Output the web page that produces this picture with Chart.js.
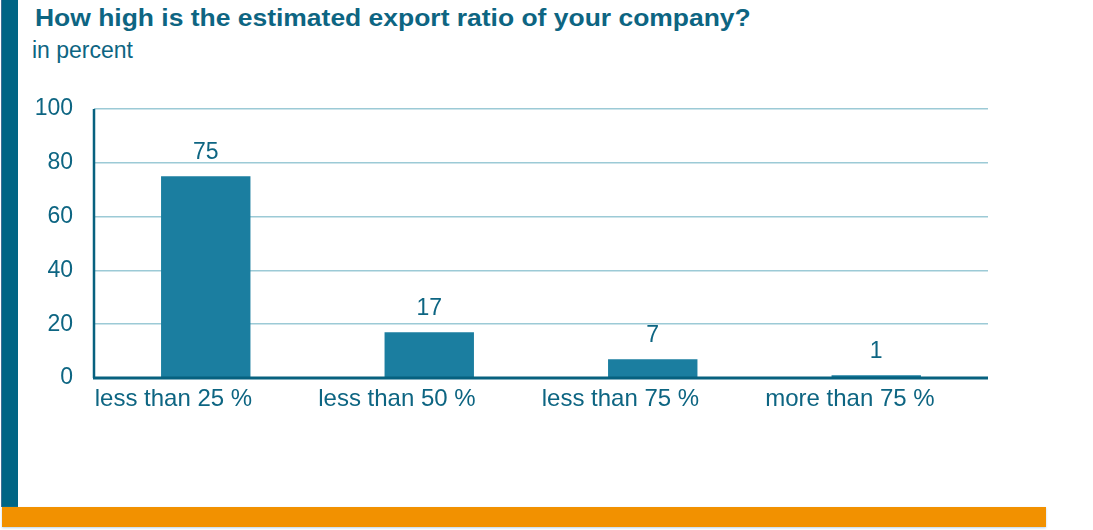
<!DOCTYPE html>
<html>
<head>
<meta charset="utf-8">
<script src="https://cdn.jsdelivr.net/npm/chart.js@4"></script>
<style>
  html, body { margin: 0; padding: 0; background: #fff; }
  #wrap { position: relative; width: 1093px; height: 530px; overflow: hidden; font-family: "Liberation Sans", Arial, sans-serif; }
  #sidebar { position: absolute; left: 1px; top: 0; width: 16px; height: 507px; background: #006585; border-left: 1px solid #3f6f94; }
  #footer { position: absolute; left: 2px; top: 507px; width: 1044px; height: 20px; background: #f29100; box-shadow: 0 1px 2px #b8d4ec; }
  #title { position: absolute; left: 35px; top: 5px; font-size: 23px; font-weight: bold; color: #0d6582; white-space: nowrap; transform: scaleX(1.15); transform-origin: left top; }
  #subtitle { position: absolute; left: 32px; top: 37px; font-size: 23px; color: #0d6582; white-space: nowrap; }
  #chart { position: absolute; left: 0; top: 0; }
</style>
</head>
<body>
<div id="wrap">
  <div id="sidebar"></div>
  <div id="footer"></div>
  <div id="title">How high is the estimated export ratio of your company?</div>
  <div id="subtitle">in percent</div>
  <canvas id="chart" width="1093" height="530"></canvas>
</div>
<script>
// export ratio categories and shares (in percent)
const categories = ['less than 25 %', 'less than 50 %', 'less than 75 %', 'more than 75 %'];
const shares = [75, 17, 7, 1];
const yTicks = [0, 20, 40, 60, 80, 100];

const textColor = '#0d6582';
const barColor = '#1b7ea0';
const gridColor = '#9ccad6';
const axisColor = '#07617f';
const fontFamily = '"Liberation Sans", Arial, sans-serif';

// value labels above each bar
const valueLabels = {
    id: 'valueLabels',
    afterDatasetsDraw(chart) {
        const ctx = chart.ctx;
        const meta = chart.getDatasetMeta(0);
        ctx.save();
        ctx.font = '23px ' + fontFamily;
        ctx.fillStyle = textColor;
        ctx.textAlign = 'center';
        ctx.textBaseline = 'middle';
        meta.data.forEach((bar, i) => {
            ctx.fillText(String(shares[i]), bar.x, bar.y - 24);
        });
        ctx.restore();
    }
};

// thick axis lines on the left and bottom
const axisLines = {
    id: 'axisLines',
    afterDatasetsDraw(chart) {
        const { ctx, chartArea } = chart;
        ctx.save();
        ctx.strokeStyle = axisColor;
        ctx.lineWidth = 2.5;
        ctx.beginPath();
        ctx.moveTo(chartArea.left, chartArea.top);
        ctx.lineTo(chartArea.left, chartArea.bottom);
        ctx.stroke();
        ctx.lineWidth = 3;
        ctx.beginPath();
        ctx.moveTo(chartArea.left - 1, chartArea.bottom);
        ctx.lineTo(chartArea.right, chartArea.bottom);
        ctx.stroke();
        ctx.restore();
    }
};

new Chart(document.getElementById('chart'), {
    type: 'bar',
    data: {
        labels: categories,
        datasets: [{
            data: shares,
            backgroundColor: barColor,
            categoryPercentage: 1,
            barPercentage: 0.4
        }]
    },
    options: {
        responsive: false,
        animation: false,
        layout: { padding: { left: 20, right: 105, top: 109, bottom: 0 } },
        plugins: { legend: { display: false }, tooltip: { enabled: false } },
        scales: {
            x: {
                grid: { display: false, drawTicks: false },
                border: { display: false },
                ticks: {
                    color: textColor,
                    font: { size: 24, family: fontFamily },
                    padding: 7,
                    align: 'start',
                    labelOffset: -111,
                    maxRotation: 0
                },
                afterFit(scale) { scale.height = 152; }
            },
            y: {
                min: 0,
                max: 100,
                afterBuildTicks(scale) { scale.ticks = yTicks.map(v => ({ value: v })); },
                grid: { color: gridColor, lineWidth: 1.5, drawTicks: false },
                border: { display: false },
                ticks: {
                    color: textColor,
                    font: { size: 23, family: fontFamily },
                    padding: 21
                },
                afterFit(scale) { scale.width = 74; }
            }
        }
    },
    plugins: [valueLabels, axisLines]
});
</script>
</body>
</html>
